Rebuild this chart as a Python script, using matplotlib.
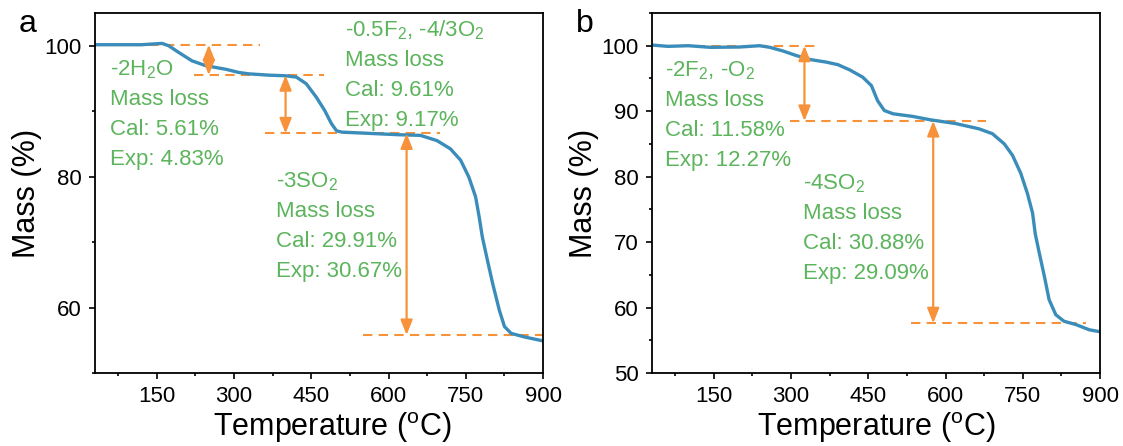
import matplotlib
matplotlib.use("Agg")
import matplotlib.pyplot as plt
from matplotlib.transforms import offset_copy
from matplotlib.ticker import MultipleLocator

plt.rcParams['font.family'] = ['Liberation Sans', 'DejaVu Sans']
plt.rcParams['mathtext.fontset'] = 'custom'
plt.rcParams['mathtext.rm'] = 'Liberation Sans'
plt.rcParams['mathtext.it'] = 'Liberation Sans:italic'

BLUE = '#3a8dba'
ORANGE = '#f7923a'
GREEN = '#5cb45c'

# panel a TGA curve
temp_a = [30, 75, 120, 160, 173, 192, 218, 245, 284, 310, 329, 368, 401, 421, 440,
          460, 476, 489, 499, 509, 564, 620, 662, 694, 720, 740, 756, 769, 776, 782,
          792, 802, 815, 825, 838, 864, 900]
mass_a = [100.15, 100.15, 100.15, 100.35, 100.0, 99.0, 97.7, 96.95, 96.4, 95.9, 95.7,
          95.5, 95.4, 95.2, 94.2, 92.1, 90.1, 88.1, 87.0, 86.8, 86.6, 86.4, 86.3, 85.5,
          84.25, 82.5, 79.9, 76.9, 73.8, 70.8, 67.2, 63.7, 59.6, 57.1, 56.05, 55.5, 54.9]

# panel b TGA curve
temp_b = [30, 61, 100, 144, 200, 239, 259, 284, 310, 336, 368, 391, 414, 439, 456,
          468, 481, 498, 536, 569, 620, 665, 691, 714, 730, 746, 759, 769, 774, 782,
          792, 801, 814, 830, 853, 879, 900]
mass_b = [100.1, 99.9, 100.0, 99.75, 99.8, 100.0, 99.75, 99.2, 98.5, 97.9, 97.5, 97.1,
          96.3, 95.2, 93.9, 91.6, 90.1, 89.6, 89.2, 88.7, 88.1, 87.3, 86.55, 85.0, 83.25,
          80.5, 77.4, 74.4, 71.3, 68.3, 64.7, 61.2, 58.9, 57.9, 57.4, 56.6, 56.3]

# dashed reference levels: (mass, T start, T end)
levels_a = [(100.15, 75, 350), (95.5, 222, 474), (86.6, 360, 699), (55.8, 550, 900)]
levels_b = [(100.0, 85, 357), (88.5, 298, 678), (57.6, 532, 873)]

# double arrows: (T, top mass, bottom mass)
arrows_a = [(251, 100.15, 95.5), (400, 95.5, 86.6), (635, 86.6, 55.8)]
arrows_b = [(326, 100.0, 88.5), (576, 88.5, 57.6)]

# annotation blocks: (T, mass of first line, lines)
notes_a = [
    (60, 96.3, [r'-2H$\mathregular{_2}$O', 'Mass loss', 'Cal: 5.61%', 'Exp: 4.83%']),
    (516, 102.3, [r'-0.5F$\mathregular{_2}$, -4/3O$\mathregular{_2}$', 'Mass loss',
                  'Cal: 9.61%', 'Exp: 9.17%']),
    (382, 79.2, [r'-3SO$\mathregular{_2}$', 'Mass loss', 'Cal: 29.91%', 'Exp: 30.67%']),
]
notes_b = [
    (56, 96.2, [r'-2F$\mathregular{_2}$, -O$\mathregular{_2}$', 'Mass loss',
                'Cal: 11.58%', 'Exp: 12.27%']),
    (323, 78.9, [r'-4SO$\mathregular{_2}$', 'Mass loss', 'Cal: 30.88%', 'Exp: 29.09%']),
]


def draw_panel(ax, temp, mass, levels, arrows, notes, ymajor, label):
    for y, x0, x1 in levels:
        ax.plot([x0, x1], [y, y], color=ORANGE, lw=1.5, dashes=(4.5, 3), zorder=1)
    ax.plot(temp, mass, color=BLUE, lw=2.4, zorder=2,
            solid_joinstyle='round', solid_capstyle='round')
    for x, y0, y1 in arrows:
        ax.annotate('', xy=(x, y1), xytext=(x, y0),
                    arrowprops=dict(arrowstyle='<|-|>,head_length=0.9,head_width=0.36',
                                    color=ORANGE, lw=1.6, shrinkA=0, shrinkB=0),
                    zorder=3)
    for x, y, lines in notes:
        for i, s in enumerate(lines):
            tr = offset_copy(ax.transData, fig=ax.figure, x=0, y=-21.6 * i, units='points')
            ax.text(x, y, s, transform=tr, color=GREEN, fontsize=16,
                    ha='left', va='center')

    ax.set_xlim(30, 900)
    ax.set_ylim(50, 105)
    ax.xaxis.set_major_locator(MultipleLocator(150))
    ax.xaxis.set_minor_locator(MultipleLocator(75))
    ax.yaxis.set_major_locator(MultipleLocator(ymajor))
    ax.yaxis.set_minor_locator(MultipleLocator(ymajor / 2))
    ax.tick_params(which='major', direction='out', length=4.5, width=1.2,
                   labelsize=16, pad=5)
    ax.tick_params(which='minor', direction='out', length=2.5, width=1.2)
    for sp in ax.spines.values():
        sp.set_linewidth(1.3)
    ax.set_xlabel(r'Temperature ($\mathregular{^o}$C)', fontsize=22, labelpad=2)
    ax.set_ylabel('Mass (%)', fontsize=22, labelpad=2)
    ax.text(-0.17, 0.97, label, transform=ax.transAxes, fontsize=23,
            ha='left', va='center')


fig = plt.figure(figsize=(11.23, 4.46), dpi=100)
ax_a = fig.add_axes([0.0846, 0.1637, 0.399, 0.8072])
ax_b = fig.add_axes([0.5806, 0.1637, 0.399, 0.8072])

draw_panel(ax_a, temp_a, mass_a, levels_a, arrows_a, notes_a, 20, 'a')
draw_panel(ax_b, temp_b, mass_b, levels_b, arrows_b, notes_b, 10, 'b')
ax_a.xaxis.label.set_x(0.53)

fig.savefig('out.png', dpi=100)
